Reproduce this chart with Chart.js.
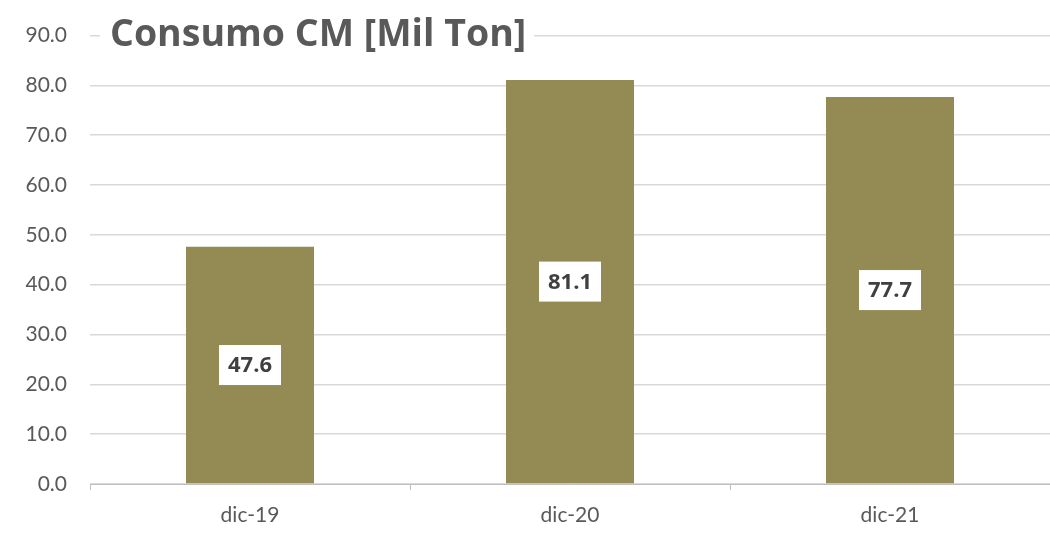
<!DOCTYPE html>
<html>
<head>
<meta charset="utf-8">
<script src="https://cdn.jsdelivr.net/npm/chart.js@4"></script>
<style>
  html, body { margin: 0; padding: 0; background: #fff; }
  #wrap { width: 1050px; height: 541px; }
</style>
</head>
<body>
<div id="wrap"><canvas id="chart" width="1050" height="541"></canvas></div>
<script>
const categories = ['dic-19', 'dic-20', 'dic-21'];
const consumo = [47.6, 81.1, 77.7];
const yTicks = [0, 10, 20, 30, 40, 50, 60, 70, 80, 90];
const chartTitle = 'Consumo CM [Mil Ton]';

const FONT = 'Lato, "Open Sans", sans-serif';
const BOLD_FONT = '"Open Sans", Lato, sans-serif';

// title sits on top of the 90.0 gridline with a white backing
const titlePlugin = {
  id: 'overlayTitle',
  afterDraw(chart) {
    const { ctx } = chart;
    const y = chart.scales.y.getPixelForValue(90);
    ctx.save();
    ctx.font = `bold 37.5px ${BOLD_FONT}`;
    const w = ctx.measureText(chartTitle).width;
    const x = 110;
    ctx.fillStyle = '#fff';
    ctx.fillRect(x - 10, y - 26, w + 18, 52);
    ctx.fillStyle = '#595959';
    ctx.textBaseline = 'middle';
    ctx.fillText(chartTitle, x, y);
    ctx.restore();
  }
};

// value labels in white boxes, centred in each bar
const labelPlugin = {
  id: 'boxLabels',
  afterDatasetsDraw(chart) {
    const { ctx } = chart;
    const meta = chart.getDatasetMeta(0);
    ctx.save();
    ctx.font = `bold 22px ${BOLD_FONT}`;
    ctx.textAlign = 'center';
    ctx.textBaseline = 'middle';
    meta.data.forEach((bar, i) => {
      const txt = consumo[i].toFixed(1);
      const cy = (bar.y + bar.base) / 2;
      const w = ctx.measureText(txt).width + 18;
      ctx.fillStyle = '#fff';
      ctx.fillRect(bar.x - w / 2, cy - 20, w, 40);
      ctx.fillStyle = '#404040';
      ctx.fillText(txt, bar.x, cy + 1);
    });
    ctx.restore();
  }
};

new Chart(document.getElementById('chart').getContext('2d'), {
  type: 'bar',
  data: {
    labels: categories,
    datasets: [{
      data: consumo,
      backgroundColor: '#948A54',
      categoryPercentage: 1,
      barPercentage: 0.4,
    }],
  },
  options: {
    responsive: false,
    animation: false,
    layout: { padding: { top: 22, right: 0, left: 0, bottom: 0 } },
    plugins: {
      legend: { display: false },
      tooltip: { enabled: false },
      title: { display: false },
    },
    scales: {
      x: {
        grid: { offset: true, drawOnChartArea: false, drawTicks: true, tickLength: 6, color: '#bfbfbf' },
        border: { display: true, color: '#bfbfbf' },
        ticks: { color: '#595959', font: { family: FONT, size: 21 }, padding: 13 },
        afterFit(s) { s.height = 57; },
      },
      y: {
        min: 0,
        max: 90,
        afterBuildTicks(s) { s.ticks = yTicks.map(v => ({ value: v })); },
        grid: { color: '#d9d9d9', drawTicks: false, lineWidth: 1.5 },
        border: { display: false },
        ticks: {
          color: '#595959',
          font: { family: FONT, size: 21 },
          padding: 23,
          callback: v => v.toFixed(1),
        },
        afterFit(s) { s.width = 90; },
      },
    },
  },
  plugins: [labelPlugin, titlePlugin],
});
</script>
</body>
</html>
